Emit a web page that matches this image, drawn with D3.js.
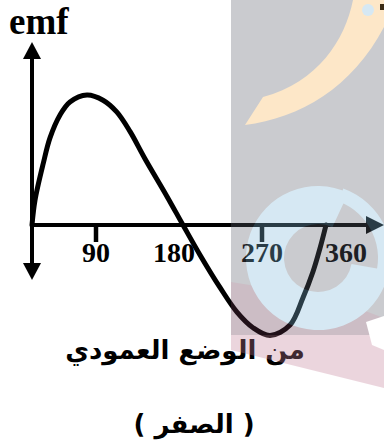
<!DOCTYPE html>
<html><head>
<meta charset="utf-8">
<title>emf</title>
<style>
body { margin: 0; background: #fff; }
svg { display: block; }
.num { font-family: 'Liberation Serif', 'Times New Roman', serif; font-weight: bold; }
.ar { font-family: 'DejaVu Sans', sans-serif; font-weight: bold; }
</style>
<script src="https://cdnjs.cloudflare.com/ajax/libs/d3/7.8.5/d3.min.js"></script>
</head>
<body>
<div class="hull"></div>
<script>

// angle (deg) / emf
var angles = [0, 4.2, 15.9, 25.3, 39.4, 53.4, 77.3, 98.1, 113.9, 129.2, 146.5, 171.9, 189.2,
              206.6, 227.0, 244.4, 260.8, 278.6, 300.0, 313.9, 324.6, 332.1, 338.6];
var emf = [0, 0.19, 0.475, 0.67, 0.846, 0.946, 1.0, 0.96, 0.87, 0.72, 0.51, 0.22, 0,
           -0.23, -0.48, -0.67, -0.79, -0.85, -0.77, -0.56, -0.36, -0.18, 0];
var tickLabels = [90, 180, 270, 360];
var tickMarks = [90, 270];
var yTitle = "emf";
var line1 = "من الوضع العمودي";
var line2 = "( الصفر )";

var w = 384, h = 447;

var x = d3.scaleLinear().domain([0, 90, 180, 270, 360]).range([32, 96, 174, 262, 346]);
var y = d3.scaleLinear().domain([-1, 1]).range([355, 95]);

var svg = d3.select(".hull").append("svg")
    .attr("width", w).attr("height", h);

var x0 = x(0), y0 = y(0);

// axes
var ax = svg.append("g").attr("fill", "#000").attr("stroke", "#000");
ax.append("line").attr("x1", x0).attr("x2", x0).attr("y1", 56).attr("y2", 266).attr("stroke-width", 4);
ax.append("line").attr("x1", x0).attr("x2", 370).attr("y1", y0).attr("y2", y0).attr("stroke-width", 4);
ax.append("path").attr("stroke", "none").attr("d", `M${x0},42 L${x0-9},59 L${x0+9},59 Z`);
ax.append("path").attr("stroke", "none").attr("d", `M${x0},280 L${x0-9},263 L${x0+9},263 Z`);
ax.append("path").attr("stroke", "none").attr("d", `M384,${y0} L366,${y0-9} L366,${y0+9} Z`);

ax.selectAll(".tick").data(tickMarks).join("line")
    .attr("class", "tick")
    .attr("x1", d => x(d)).attr("x2", d => x(d))
    .attr("y1", y0).attr("y2", y0 + 17)
    .attr("stroke-width", 4.5);

svg.selectAll(".lbl").data(tickLabels).join("text")
    .attr("class", "lbl num")
    .attr("x", d => x(d))
    .attr("y", 262)
    .attr("text-anchor", "middle")
    .attr("font-size", 28)
    .text(d => d);

svg.append("text").attr("class", "num")
    .attr("x", 9).attr("y", 34)
    .attr("font-size", 37)
    .text(yTitle);

// the curve
var pts = angles.map((a, i) => [a, emf[i]]);
svg.append("path")
    .datum(pts)
    .attr("fill", "none")
    .attr("stroke", "#000")
    .attr("stroke-width", 5)
    .attr("stroke-linecap", "round")
    .attr("d", d3.line().x(d => x(d[0])).y(d => y(d[1])).curve(d3.curveCatmullRom));

svg.append("text").attr("class", "ar")
    .attr("x", 185).attr("y", 359)
    .attr("text-anchor", "middle").attr("direction", "rtl")
    .attr("font-size", 26)
    .text(line1);

svg.append("text").attr("class", "ar")
    .attr("x", 194).attr("y", 433)
    .attr("text-anchor", "middle").attr("direction", "rtl")
    .attr("font-size", 26)
    .text(line2);

// faded watermark laid over the right side
var wm = svg.append("g").attr("opacity", 0.32);
var deg = Math.PI / 180;
wm.append("rect").attr("x", 231).attr("y", 0).attr("width", 153).attr("height", 335).attr("fill", "rgb(92,96,108)");
wm.append("path").attr("fill", "rgb(99,52,77)")
    .attr("d", "M231,282 L330,298 L384,318 L384,335 L231,335 Z");
wm.append("path").attr("fill", "rgb(196,127,152)")
    .attr("d", "M231,335 L384,335 L384,388 L231,350 Z");
wm.append("path").attr("fill", "rgb(130,186,218)")
    .attr("transform", "translate(318,258)")
    .attr("d", d3.arc().innerRadius(34).outerRadius(72).startAngle(100 * deg).endAngle(385 * deg)());
wm.append("path").attr("fill", "rgb(130,186,218)")
    .attr("transform", "translate(318,258)")
    .attr("d", d3.arc().innerRadius(60).outerRadius(74).startAngle(20 * deg).endAngle(110 * deg)());
wm.append("path").attr("fill", "rgb(255,255,255)")
    .attr("d", "M366,322 L384,316 L384,350 L372,345 Z");
wm.append("path").attr("fill", "rgb(249,183,86)")
    .attr("d", "M353,0 C345,40 318,82 263,97 L245,125 C300,118 352,88 384,27 L384,0 Z");
wm.append("circle").attr("cx", 368).attr("cy", 10).attr("r", 6).attr("fill", "rgb(130,186,218)");
svg.append("rect").attr("x", 380).attr("y", 4).attr("width", 4).attr("height", 6).attr("fill", "#3a2a14");

</script>
</body>
</html>
